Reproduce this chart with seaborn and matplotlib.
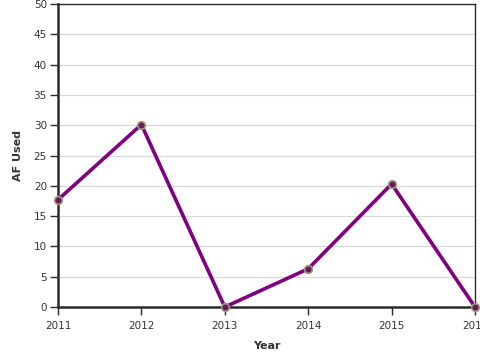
import matplotlib
matplotlib.use("Agg")
import matplotlib.pyplot as plt
import seaborn as sns
import pandas as pd

years = [2011, 2012, 2013, 2014, 2015, 2016]
af_used = [17.7, 30.1, 0.0, 6.3, 20.3, 0.0]
y_ticks = list(range(0, 51, 5))

df = pd.DataFrame({"Year": years, "AF Used": af_used})

sns.set_theme(style="white")
plt.rcParams['font.family'] = ['DejaVu Sans']

fig = plt.figure(figsize=(4.8, 3.6), dpi=100)
ax = fig.add_axes([58/480, 53/360, 417/480, 303/360])

ax.set_axisbelow(True)
for t in y_ticks[1:]:
    ax.axhline(t, color="#d9d9d9", lw=0.9, zorder=0)

sns.lineplot(data=df, x="Year", y="AF Used", ax=ax, color="#800080", lw=2.6,
             marker="o", markersize=5.5, markerfacecolor="#6a1a5a",
             markeredgecolor="#9a9a7a", markeredgewidth=1.2, clip_on=False, zorder=3)

ax.set_xlim(2011, 2016)
ax.set_ylim(0, 50)
ax.set_yticks(y_ticks)
ax.set_xticks(years)
ax.set_xticklabels([str(y) for y in years])

for s in ["left", "bottom"]:
    ax.spines[s].set_linewidth(1.8)
    ax.spines[s].set_color("#2b2b2b")
for s in ["top", "right"]:
    ax.spines[s].set_linewidth(1.0)
    ax.spines[s].set_color("#2b2b2b")

ax.tick_params(axis="both", which="both", direction="out", length=6, width=1,
               color="#2b2b2b", labelsize=7.5, labelcolor="#333333", pad=2,
               bottom=True, left=True)
ax.tick_params(axis="x", pad=4)

ax.set_xlabel("Year", fontsize=8, fontweight="bold", color="#333333", labelpad=7)
ax.set_ylabel("AF Used", fontsize=8, fontweight="bold", color="#333333", labelpad=8)

fig.savefig("out.png", dpi=100)
